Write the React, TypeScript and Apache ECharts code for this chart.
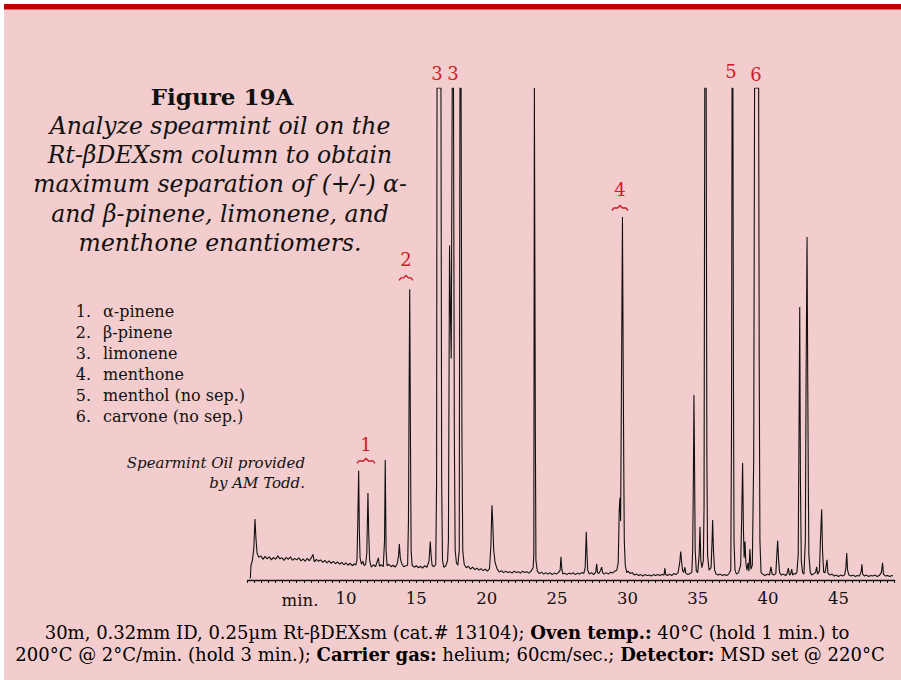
import React, { useEffect, useRef } from "react";
import * as echarts from "echarts";

// Chromatogram trace: [retention time (min), detector response (% of full scale)]
const trace: [number, number][] = [
  [3.2, 0.3], [3.25, 3.0], [3.35, 4.0], [3.45, 6.5], [3.53, 12.4], [3.6, 8.5], [3.68, 5.5], [3.8, 4.6],
  [3.95, 4.9], [4.1, 4.2], [4.25, 4.8], [4.4, 4.3], [4.55, 4.7], [4.7, 4.1], [4.85, 4.6], [5.0, 4.2],
  [5.15, 4.9], [5.3, 4.3], [5.45, 4.5], [5.6, 4.0], [5.75, 4.6], [5.9, 4.2], [6.05, 4.7], [6.2, 4.0],
  [6.35, 4.4], [6.5, 4.1], [6.65, 4.5], [6.8, 3.9], [6.95, 4.3], [7.1, 3.8], [7.25, 4.4], [7.4, 3.9],
  [7.55, 4.6], [7.65, 5.2], [7.75, 3.7], [7.9, 4.2], [8.05, 3.8], [8.2, 4.1], [8.35, 3.6], [8.5, 4.0],
  [8.65, 3.5], [8.8, 3.9], [8.95, 3.4], [9.1, 3.8], [9.25, 3.3], [9.4, 3.7], [9.55, 3.2], [9.7, 3.6],
  [9.85, 3.1], [10.0, 3.5], [10.15, 3.0], [10.3, 3.4], [10.45, 2.9], [10.6, 3.3], [10.7, 3.0],
  [10.78, 4.0], [10.84, 12], [10.9, 22.2], [10.95, 10], [11.0, 4.5], [11.1, 3.2], [11.2, 3.8], [11.3, 2.9], [11.4, 3.2],
  [11.48, 5.5], [11.56, 17.7], [11.62, 9], [11.68, 4.0], [11.8, 2.6], [11.95, 3.1], [12.1, 2.7], [12.3, 4.5],
  [12.38, 2.8], [12.5, 3.1], [12.65, 2.7],
  [12.74, 8], [12.79, 24.4], [12.85, 6], [12.92, 2.9], [13.05, 3.2], [13.2, 2.7], [13.35, 3.0], [13.5, 2.6], [13.65, 3.4],
  [13.74, 5.0], [13.79, 7.3], [13.86, 4.5], [13.95, 3.4], [14.1, 2.7], [14.25, 2.9], [14.38, 3.0],
  [14.44, 12], [14.49, 40], [14.53, 59.1], [14.58, 30], [14.63, 6], [14.7, 3.0], [14.85, 2.6], [15.0, 2.9],
  [15.15, 2.5], [15.3, 2.8], [15.45, 2.4], [15.6, 2.9], [15.75, 2.6], [15.9, 3.8],
  [15.95, 6.0], [15.99, 7.8], [16.05, 5.0], [16.12, 3.0], [16.25, 2.7], [16.38, 3.2],
  [16.44, 20], [16.47, 100], [16.75, 100], [16.8, 20], [16.86, 4], [16.95, 2.6], [17.1, 2.9], [17.22, 4],
  [17.28, 8], [17.33, 45], [17.36, 68], [17.42, 55], [17.48, 45], [17.55, 100], [17.64, 100], [17.7, 30],
  [17.76, 6], [17.85, 3.5], [17.95, 3.0], [18.05, 6], [18.1, 100], [18.18, 100], [18.24, 30], [18.3, 6],
  [18.4, 3.2], [18.55, 2.5], [18.7, 2.8], [18.85, 2.2], [19.0, 2.6], [19.15, 2.1], [19.3, 2.4], [19.45, 2.0],
  [19.6, 2.3], [19.75, 1.9], [19.9, 2.2], [20.05, 1.8], [20.2, 2.3],
  [20.3, 7], [20.35, 13], [20.38, 15.2], [20.44, 11], [20.5, 6], [20.6, 3.5], [20.75, 2.2], [20.9, 1.6],
  [21.05, 1.9], [21.2, 1.5], [21.35, 1.8], [21.5, 1.5], [21.65, 1.7], [21.8, 1.4], [21.95, 1.8], [22.1, 1.5],
  [22.25, 1.7], [22.4, 1.4], [22.55, 1.8], [22.7, 1.5], [22.85, 1.7], [23.0, 1.4], [23.15, 1.8], [23.3, 2.5],
  [23.35, 5], [23.39, 100], [23.43, 100], [23.46, 30], [23.5, 4],
  [23.6, 1.8], [23.75, 1.3], [23.9, 1.6], [24.05, 1.2], [24.2, 1.5], [24.35, 1.2], [24.5, 1.5], [24.65, 1.1],
  [24.8, 1.4], [24.95, 1.2], [25.1, 1.5], [25.22, 2.0],
  [25.28, 4.7], [25.34, 2.2], [25.42, 1.2], [25.55, 1.4], [25.7, 1.1], [25.85, 1.4], [26.0, 1.2], [26.15, 1.5],
  [26.3, 1.1], [26.45, 1.4], [26.6, 1.2], [26.75, 1.5], [26.9, 1.3], [27.0, 2.5],
  [27.05, 7], [27.08, 9.8], [27.12, 6], [27.18, 2.0], [27.3, 1.2], [27.45, 1.5], [27.6, 1.1], [27.75, 1.6],
  [27.82, 3.3], [27.88, 1.5], [27.98, 1.3], [28.08, 1.9], [28.17, 2.6], [28.24, 1.5], [28.35, 1.2], [28.5, 1.5],
  [28.65, 1.2], [28.8, 1.6], [28.95, 1.4], [29.1, 1.8], [29.25, 2.0], [29.35, 3.5],
  [29.42, 14], [29.47, 16.7], [29.52, 12], [29.58, 40], [29.65, 73.8], [29.7, 45], [29.74, 25], [29.78, 8],
  [29.85, 3], [29.95, 1.5], [30.05, 1.8], [30.2, 1.3], [30.35, 1.5], [30.5, 1.0],
  [30.65, 1.2], [30.8, 0.9], [30.95, 1.1], [31.1, 0.8], [31.25, 1.1], [31.4, 0.9], [31.55, 1.0], [31.7, 0.8],
  [31.85, 1.1], [32.0, 0.9], [32.15, 1.1], [32.3, 0.9], [32.45, 1.1], [32.6, 1.0], [32.67, 2.4], [32.72, 1.1],
  [32.85, 0.9], [33.0, 1.2], [33.15, 0.9], [33.3, 1.3], [33.45, 1.1], [33.6, 1.5], [33.72, 3.5],
  [33.79, 5.8], [33.85, 3.8], [33.92, 2.0], [34.0, 1.5], [34.09, 2.6], [34.15, 1.4], [34.3, 1.1], [34.45, 1.3], [34.58, 1.6],
  [34.64, 6], [34.69, 20], [34.73, 37.6], [34.77, 25], [34.82, 6], [34.9, 1.8], [35.0, 1.5], [35.1, 5],
  [35.16, 10.8], [35.22, 4], [35.3, 2.5], [35.4, 4],
  [35.45, 15], [35.5, 100], [35.6, 100], [35.65, 25], [35.7, 5], [35.8, 2.0], [35.95, 2.5], [36.02, 8],
  [36.06, 12.2], [36.12, 6], [36.2, 2.0], [36.3, 1.2], [36.45, 1.0], [36.6, 1.2], [36.75, 0.9], [36.9, 1.1],
  [37.05, 0.9], [37.2, 1.2], [37.35, 2.0],
  [37.4, 30], [37.44, 100], [37.5, 100], [37.54, 40], [37.58, 8], [37.65, 2], [37.75, 1.2], [37.9, 1.5], [38.05, 3],
  [38.12, 12], [38.19, 23.8], [38.25, 10], [38.3, 4.5], [38.36, 7.8], [38.42, 3.5], [38.5, 2.0], [38.58, 3.5],
  [38.64, 1.8], [38.71, 6.3], [38.78, 2.2], [38.88, 3],
  [38.98, 25], [39.04, 100], [39.33, 100], [39.37, 45], [39.42, 8], [39.5, 1.5], [39.65, 1.1], [39.8, 0.9],
  [39.95, 1.2], [40.1, 1.0], [40.21, 2.7], [40.28, 1.2], [40.4, 1.0], [40.55, 1.3],
  [40.62, 5], [40.68, 8.0], [40.75, 4], [40.82, 1.5], [40.95, 1.0], [41.1, 1.2], [41.25, 0.9], [41.35, 1.3],
  [41.44, 2.4], [41.52, 1.0], [41.6, 1.2], [41.68, 2.2], [41.75, 1.0], [41.85, 1.3], [41.95, 1.2], [42.05, 1.6], [42.14, 5],
  [42.2, 30], [42.25, 55.5], [42.3, 20], [42.36, 4], [42.45, 1.5], [42.55, 1.2], [42.65, 8], [42.7, 40],
  [42.77, 69.7], [42.82, 40], [42.86, 20], [42.9, 5], [43.0, 1.5], [43.12, 1.0], [43.25, 1.3], [43.38, 1.5],
  [43.45, 2.7], [43.52, 1.2], [43.65, 1.8], [43.72, 8],
  [43.81, 14.4], [43.87, 6], [43.95, 1.6], [44.05, 1.5], [44.19, 4.1], [44.25, 1.4], [44.4, 1.0], [44.55, 1.2],
  [44.7, 0.8], [44.85, 1.0], [45.0, 0.7], [45.15, 1.0], [45.3, 0.8], [45.45, 1.1], [45.53, 2.5],
  [45.59, 5.5], [45.65, 2.0], [45.75, 1.0], [45.9, 0.8], [46.05, 1.0], [46.2, 0.7], [46.35, 0.9], [46.5, 0.8],
  [46.62, 1.8], [46.67, 3.2], [46.72, 1.2], [46.85, 0.8], [47.0, 1.0], [47.15, 0.7], [47.3, 0.9], [47.45, 0.8],
  [47.6, 1.0], [47.75, 0.7], [47.9, 0.9], [48.05, 1.5], [48.14, 3.5], [48.2, 1.2], [48.35, 0.8], [48.5, 0.9],
  [48.65, 0.7], [48.8, 0.9], [48.88, 0.8],
];

const xTickLabels = [10, 15, 20, 25, 30, 35, 40, 45];

// Peak identification labels (red): number, time, height; brace: [from, to, height] or null
const peakLabelText = ["1", "2", "3", "3", "4", "5", "6"];
const peakLabelTime = [11.42, 14.26, 16.47, 17.6, 29.47, 37.36, 39.14];
const peakLabelHeight = [27.6, 65.2, 103, 103, 79.3, 103.3, 102.8];
const peakBraces: ([number, number, number] | null)[] = [
  [10.78, 12.06, 24.2],
  [13.77, 14.76, 61.4],
  null,
  null,
  [28.9, 30.04, 75.6],
  null,
  null,
];

const legendNumbers = ["1.", "2.", "3.", "4.", "5.", "6."];
const legendNames = ["α-pinene", "β-pinene", "limonene", "menthone", "menthol (no sep.)", "carvone (no sep.)"];

const titleText = "Figure 19A";
const subtitleLines = [
  "Analyze spearmint oil on the",
  "Rt-βDEXsm column to obtain",
  "maximum separation of (+/-) α-",
  "and β-pinene, limonene, and",
  "menthone enantiomers.",
];
const creditLines = ["Spearmint Oil provided", "by AM Todd."];

const SERIF = "'DejaVu Serif', 'Liberation Serif', serif";
const PINK = "#f3cdcd";
const RED = "#cc1a24";

export default function App() {
  const ref = useRef<HTMLDivElement>(null);

  useEffect(() => {
    if (!ref.current) return;
    const chart = echarts.init(ref.current, null, { renderer: "svg" });

    chart.setOption({
      animation: false,
      backgroundColor: "#ffffff",
      grid: { left: 247.5, right: 6.3, top: 88, bottom: 100, containLabel: false },
      xAxis: {
        type: "value",
        min: 3,
        max: 49,
        interval: 0.5,
        splitLine: { show: false },
        axisLine: { show: true, onZero: false, lineStyle: { color: "#111", width: 1.3 } },
        axisTick: { show: true, length: 3, lineStyle: { color: "#111", width: 1 } },
        axisLabel: {
          show: true,
          margin: 10,
          color: "#111",
          fontFamily: SERIF,
          fontSize: 16.5,
          formatter: (v: number) =>
            xTickLabels.some((t) => Math.abs(t - v) < 1e-6) ? String(Math.round(v)) : "",
        },
      },
      yAxis: { type: "value", min: 0, max: 100, show: false },
      series: [
        {
          type: "line",
          data: trace,
          showSymbol: false,
          symbol: "none",
          clip: true,
          lineStyle: { color: "#111", width: 1.1 },
          emphasis: { disabled: true },
        },
      ],
    });

    const px = (t: number, v: number) => chart.convertToPixel({ gridIndex: 0 }, [t, v]) as number[];

    const graphics: any[] = [
      { type: "rect", z: -10, shape: { x: 4, y: 4, width: 905, height: 690 }, style: { fill: PINK } },
      { type: "rect", z: -9, shape: { x: 4, y: 4, width: 905, height: 5.5 }, style: { fill: "#c00000" } },
      {
        type: "text",
        x: 222,
        y: 96,
        style: { text: titleText, font: `bold 23px ${SERIF}`, fill: "#111", align: "center", verticalAlign: "middle" },
      },
      ...subtitleLines.map((s, i) => ({
        type: "text",
        x: 220,
        y: 126 + i * 29.2,
        style: { text: s, font: `italic 23.5px ${SERIF}`, fill: "#111", align: "center", verticalAlign: "middle" },
      })),
      ...legendNumbers.map((n, i) => ({
        type: "text",
        x: 91,
        y: 311 + i * 21,
        style: { text: n, font: `16px ${SERIF}`, fill: "#111", align: "right", verticalAlign: "middle" },
      })),
      ...legendNames.map((n, i) => ({
        type: "text",
        x: 103,
        y: 311 + i * 21,
        style: { text: n, font: `16px ${SERIF}`, fill: "#111", align: "left", verticalAlign: "middle" },
      })),
      ...creditLines.map((s, i) => ({
        type: "text",
        x: 305,
        y: 463 + i * 20,
        style: { text: s, font: `italic 15px ${SERIF}`, fill: "#111", align: "right", verticalAlign: "middle" },
      })),
      {
        type: "text",
        x: 300,
        y: 600,
        style: { text: "min.", font: `16.5px ${SERIF}`, fill: "#111", align: "center", verticalAlign: "middle" },
      },
      {
        type: "text",
        x: 447,
        y: 632,
        style: {
          text: "{n|30m, 0.32mm ID, 0.25µm Rt-βDEXsm (cat.# 13104); }{b|Oven temp.:}{n| 40°C (hold 1 min.) to}",
          align: "center",
          verticalAlign: "middle",
          rich: {
            n: { fontFamily: SERIF, fontSize: 18, color: "#111" },
            b: { fontFamily: SERIF, fontSize: 18, fontWeight: "bold", color: "#111" },
          },
        },
      },
      {
        type: "text",
        x: 450,
        y: 654,
        style: {
          text:
            "{n|200°C @ 2°C/min. (hold 3 min.); }{b|Carrier gas:}{n| helium; 60cm/sec.; }{b|Detector:}{n| MSD set @ 220°C}",
          align: "center",
          verticalAlign: "middle",
          rich: {
            n: { fontFamily: SERIF, fontSize: 18, color: "#111" },
            b: { fontFamily: SERIF, fontSize: 18, fontWeight: "bold", color: "#111" },
          },
        },
      },
    ];

    peakLabelText.forEach((txt, i) => {
      const [x, y] = px(peakLabelTime[i], peakLabelHeight[i]);
      graphics.push({
        type: "text",
        x,
        y,
        style: { text: txt, font: `18px ${SERIF}`, fill: RED, align: "center", verticalAlign: "middle" },
      });
      const b = peakBraces[i];
      if (b) {
        const [x0, yb] = px(b[0], b[2]);
        const [x1] = px(b[1], b[2]);
        const xm = (x0 + x1) / 2;
        graphics.push({
          type: "polyline",
          shape: {
            points: [
              [x0, yb + 2.5],
              [x0 + 2, yb],
              [xm - 2.5, yb],
              [xm, yb - 2.5],
              [xm + 2.5, yb],
              [x1 - 2, yb],
              [x1, yb + 2.5],
            ],
          },
          style: { stroke: RED, lineWidth: 1.4, fill: "none" },
        });
      }
    });

    chart.setOption({ graphic: graphics });

    return () => chart.dispose();
  }, []);

  return <div ref={ref} style={{ position: "absolute", left: 0, top: 0, width: 901, height: 680 }} />;
}
